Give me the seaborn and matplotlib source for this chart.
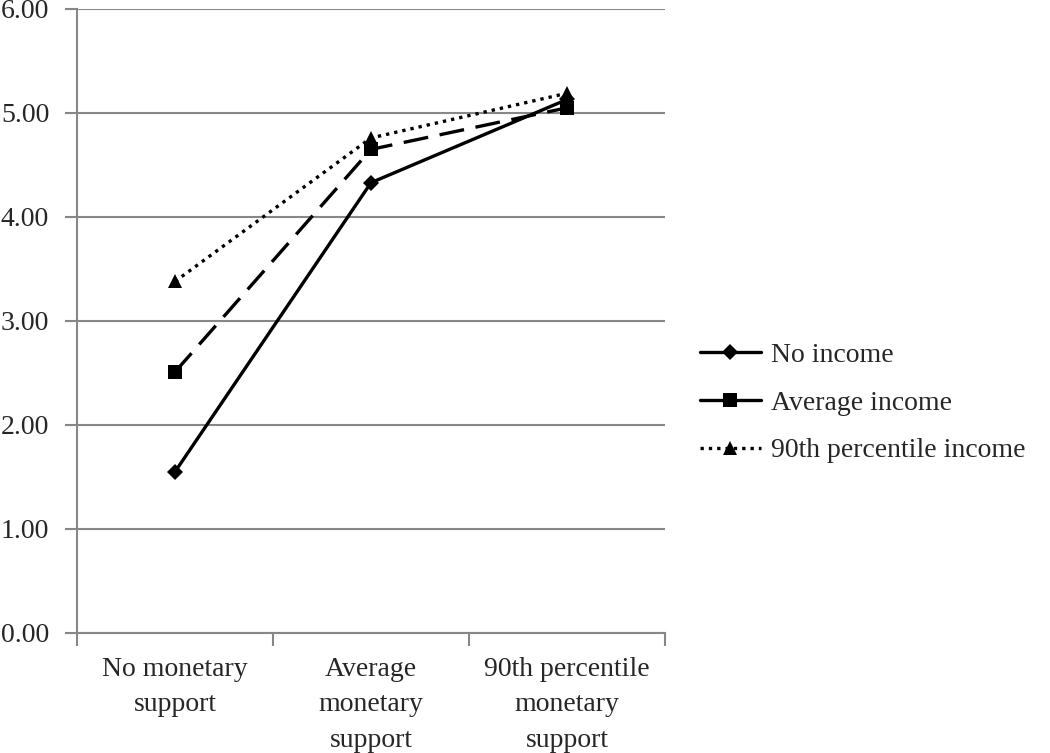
import numpy as np
import pandas as pd
from matplotlib import pyplot as plt
from matplotlib.lines import Line2D
import seaborn as sns

# categories on the x axis and the three income series
support = ['No monetary\nsupport', 'Average\nmonetary\nsupport', '90th percentile\nmonetary\nsupport']
no_income = [1.55, 4.33, 5.13]
average_income = [2.51, 4.65, 5.05]
p90_income = [3.38, 4.76, 5.19]
series_names = ['No income', 'Average income', '90th percentile income']
y_ticks = [0, 1, 2, 3, 4, 5, 6]

rows = []
for name, vals in zip(series_names, [no_income, average_income, p90_income]):
    for cat, v in zip(support, vals):
        rows.append({'support': cat, 'value': v, 'series': name})
df = pd.DataFrame(rows)

sns.set_style('white')
plt.rcParams['font.family'] = ['Liberation Serif', 'DejaVu Serif']
FS = 20

fig = plt.figure(figsize=(10.5, 7.53), dpi=100)
ax = fig.add_axes([77 / 1050, 1 - 633 / 753, (665 - 77) / 1050, (633 - 9) / 753])

markers = {'No income': 'D', 'Average income': 's', '90th percentile income': '^'}
dashes = {'No income': '', 'Average income': (7.5, 3.5), '90th percentile income': (1, 1.5)}

sns.lineplot(data=df, x='support', y='value', hue='series', style='series',
             palette=['black'] * 3, markers=markers, dashes=dashes,
             linewidth=2.4, markersize=10, markeredgewidth=0, ax=ax,
             legend=False, sort=False)

# shrink the diamond markers a bit like the original
for line in ax.lines:
    if line.get_marker() == 'D':
        line.set_markersize(8)

ax.set_xlim(-0.5, 2.5)
ax.set_ylim(0, 6)
ax.set_yticks(y_ticks)
ax.set_yticklabels([f'{t:.2f}' for t in y_ticks], fontsize=FS)
ax.set_xticks(range(len(support)))
ax.set_xticklabels(support, fontsize=FS, linespacing=1.56)
ax.set_xlabel('')
ax.set_ylabel('')

ax.set_xticks([-0.5, 0.5, 1.5, 2.5], minor=True)
ax.tick_params(axis='x', which='major', length=0, pad=17, bottom=True)
ax.tick_params(axis='x', which='minor', length=9, width=1.5, color='#878787',
               direction='out', bottom=True)
ax.tick_params(axis='y', length=9, width=1.5, color='#878787', direction='out',
               left=True, pad=11)

ax.grid(axis='y', color='#878787', linewidth=1.5)
ax.set_axisbelow(True)
for side in ['top', 'right']:
    ax.spines[side].set_visible(False)
for side in ['left', 'bottom']:
    ax.spines[side].set_color('#878787')
    ax.spines[side].set_linewidth(1.5)

handles = [
    Line2D([], [], color='black', lw=2.4, marker='D', markersize=8, mew=0),
    Line2D([], [], color='black', lw=2.4, marker='s', markersize=10, mew=0),
    Line2D([], [], color='black', lw=2.4, ls=(0, (1, 1.5)), marker='^', markersize=10, mew=0),
]
fig.legend(handles, series_names, loc='center left', bbox_to_anchor=(686 / 1050, 1 - 403 / 753),
           frameon=False, fontsize=FS, handlelength=2.2, handletextpad=0.35, labelspacing=0.8,
           borderpad=0)

plt.savefig('out.png', dpi=100)
